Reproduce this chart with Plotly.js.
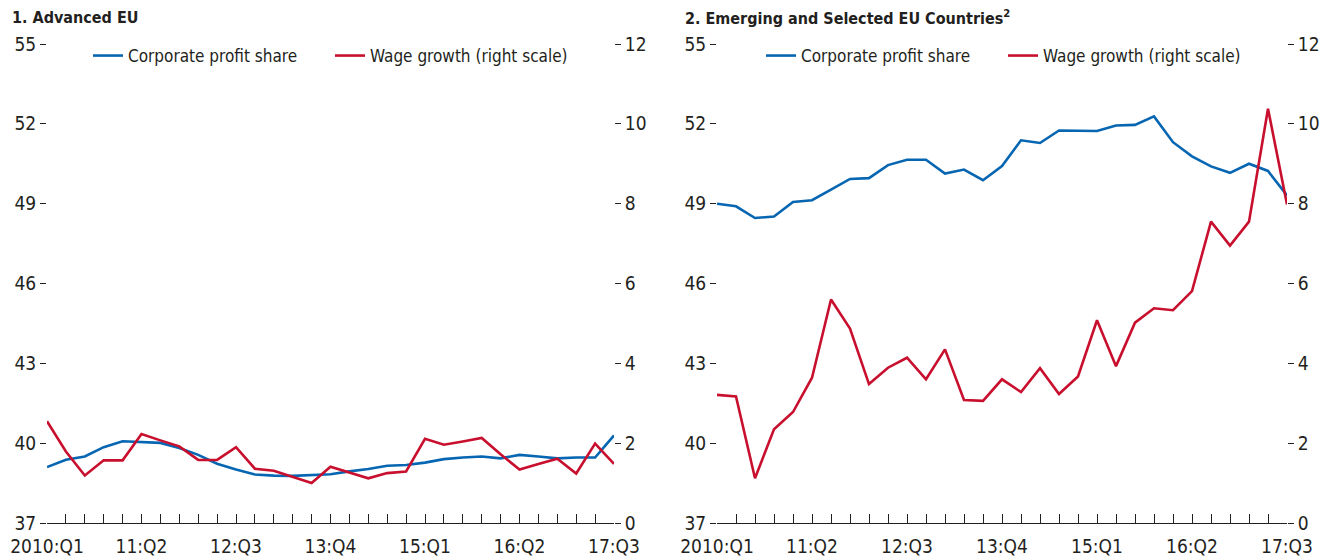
<!DOCTYPE html>
<html>
<head>
<meta charset="utf-8">
<script src="https://cdn.plot.ly/plotly-3.0.1.min.js"></script>
<style>
  html, body { margin: 0; padding: 0; background: #fff; }
  #chart { width: 1330px; height: 560px; }
</style>
</head>
<body>
<div id="chart"></div>
<script>
// Quarters 2010:Q1 .. 2017:Q3
const quarters = [
  "2010:Q1","10:Q2","10:Q3","10:Q4",
  "11:Q1","11:Q2","11:Q3","11:Q4",
  "12:Q1","12:Q2","12:Q3","12:Q4",
  "13:Q1","13:Q2","13:Q3","13:Q4",
  "14:Q1","14:Q2","14:Q3","14:Q4",
  "15:Q1","15:Q2","15:Q3","15:Q4",
  "16:Q1","16:Q2","16:Q3","16:Q4",
  "17:Q1","17:Q2","17:Q3"
];
const labeledQuarters = ["2010:Q1","11:Q2","12:Q3","13:Q4","15:Q1","16:Q2","17:Q3"];

// Panel 1: Advanced EU
const advProfit = [39.10,39.38,39.50,39.85,40.07,40.05,40.01,39.82,39.56,39.23,39.01,38.82,38.78,38.77,38.81,38.83,38.94,39.03,39.15,39.18,39.27,39.40,39.46,39.50,39.43,39.56,39.50,39.43,39.46,39.46,40.29];
const advWage   = [2.55,1.79,1.19,1.57,1.57,2.23,2.07,1.92,1.58,1.58,1.90,1.36,1.31,1.15,1.00,1.41,1.26,1.12,1.25,1.29,2.11,1.96,2.04,2.13,1.72,1.34,1.48,1.61,1.24,1.99,1.48];

// Panel 2: Emerging and Selected EU Countries
const emgProfit = [49.00,48.90,48.46,48.52,49.06,49.13,49.53,49.93,49.96,50.45,50.65,50.65,50.13,50.28,49.88,50.41,51.38,51.28,51.75,51.73,51.73,51.94,51.96,52.28,51.31,50.78,50.40,50.16,50.50,50.23,49.31];
const emgWage   = [3.21,3.17,1.12,2.35,2.78,3.64,5.60,4.87,3.48,3.89,4.14,3.60,4.35,3.08,3.06,3.60,3.28,3.88,3.23,3.67,5.08,3.93,5.02,5.38,5.33,5.81,7.55,6.95,7.55,10.38,7.98];

const leftTicks = [37,40,43,46,49,52,55];
const rightTicks = [0,2,4,6,8,10,12];

const BLUE = '#0766b2';
const RED = '#c8102e';
const TXT = '#231f20';
const FONT = '"Liberation Sans Narrow", "Arial Narrow", "DejaVu Sans Condensed", sans-serif';

const tickText = quarters.map(q => labeledQuarters.includes(q) ? q : '');

function trace(x, y, name, color, xa, ya, legend) {
  return { x: x, y: y, name: name, type: 'scatter', mode: 'lines',
           line: { color: color, width: 2.6 }, xaxis: xa, yaxis: ya,
           legend: legend, hoverinfo: 'skip' };
}

const data = [
  trace(quarters, advProfit, 'Corporate profit share', BLUE, 'x', 'y', 'legend'),
  trace(quarters, advWage, 'Wage growth (right scale)', RED, 'x', 'y2', 'legend'),
  trace(quarters, emgProfit, 'Corporate profit share', BLUE, 'x2', 'y3', 'legend2'),
  trace(quarters, emgWage, 'Wage growth (right scale)', RED, 'x2', 'y4', 'legend2')
];

const W = 1330, H = 560;
const yDom = [(H - 523) / H, (H - 44) / H];
const d1 = [47 / W, 614 / W];
const d2 = [717 / W, 1287 / W];

function xAxis(dom, anchor) {
  return {
    domain: dom, anchor: anchor, type: 'category',
    range: [0, quarters.length - 1],
    tickmode: 'array', tickvals: quarters, ticktext: tickText,
    tickangle: 0,
    ticks: 'inside', ticklen: 9, tickwidth: 1, tickcolor: TXT,
    showline: true, linecolor: TXT, linewidth: 1.2,
    showgrid: false, zeroline: false,
    tickfont: { family: FONT, size: 19, color: TXT },
    ticklabelstandoff: 6, fixedrange: true
  };
}
function yLeft(anchor) {
  return {
    domain: yDom, anchor: anchor, range: [37, 55],
    tickmode: 'array', tickvals: leftTicks,
    ticks: 'outside', ticklen: 6, tickwidth: 1, tickcolor: TXT,
    showline: false, showgrid: false, zeroline: false,
    tickfont: { family: FONT, size: 19, color: TXT }, fixedrange: true
  };
}
function yRight(anchor, overlay) {
  return {
    domain: yDom, anchor: anchor, overlaying: overlay, side: 'right',
    range: [0, 12], tickmode: 'array', tickvals: rightTicks,
    ticks: 'outside', ticklen: 6, tickwidth: 1, tickcolor: TXT,
    showline: false, showgrid: false, zeroline: false,
    tickfont: { family: FONT, size: 19, color: TXT }, fixedrange: true
  };
}

const legendBase = {
  orientation: 'h', xanchor: 'left', yanchor: 'middle',
  y: (H - 56) / H, bgcolor: 'rgba(0,0,0,0)',
  font: { family: FONT, size: 17, color: TXT },
  entrywidthmode: 'pixels', entrywidth: 197,
  itemclick: false, itemdoubleclick: false
};

const layout = {
  width: W, height: H,
  margin: { l: 0, r: 0, t: 0, b: 0 },
  paper_bgcolor: '#fff', plot_bgcolor: '#fff',
  showlegend: true,
  font: { family: FONT, color: TXT },
  xaxis: xAxis(d1, 'y'),
  yaxis: yLeft('x'),
  yaxis2: yRight('x', 'y'),
  xaxis2: xAxis(d2, 'y3'),
  yaxis3: yLeft('x2'),
  yaxis4: yRight('x2', 'y3'),
  legend: Object.assign({}, legendBase, { x: 88 / W }),
  legend2: Object.assign({}, legendBase, { x: 761 / W }),
  annotations: [
    { text: '<b>1. Advanced EU</b>', xref: 'paper', yref: 'paper',
      x: 10 / W, y: (H - 17) / H, xanchor: 'left', yanchor: 'middle',
      showarrow: false, font: { family: FONT, size: 16, color: TXT } },
    { text: '<b>2. Emerging and Selected EU Countries<sup>2</sup></b>', xref: 'paper', yref: 'paper',
      x: 683 / W, y: (H - 17) / H, xanchor: 'left', yanchor: 'middle',
      showarrow: false, font: { family: FONT, size: 16, color: TXT } }
  ]
};

Plotly.newPlot('chart', data, layout, { staticPlot: true, displayModeBar: false });
</script>
</body>
</html>
